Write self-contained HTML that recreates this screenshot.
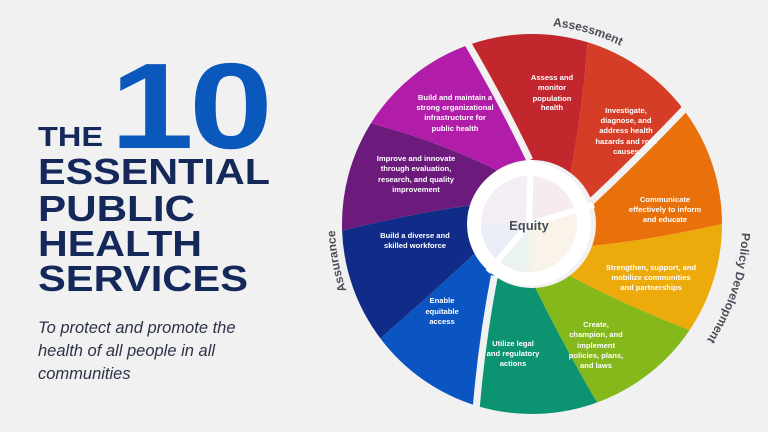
<!DOCTYPE html>
<html><head><meta charset="utf-8"><style>
html,body{margin:0;padding:0;background:#f1f1f2;}
svg{display:block;}
.seg{font-family:"Liberation Sans",sans-serif;font-weight:bold;font-size:7.6px;fill:#fff;text-anchor:middle;}
.arc{font-family:"Liberation Sans",sans-serif;font-weight:bold;font-size:12px;fill:#4a4e57;}
</style></head><body>
<svg width="768" height="432" viewBox="0 0 768 432" xmlns="http://www.w3.org/2000/svg">
<rect width="768" height="432" fill="#f1f1f2"/>
<g font-family="Liberation Sans, sans-serif" font-weight="bold">
<text x="110" y="148" font-size="122" fill="#0b58bd" textLength="158" lengthAdjust="spacingAndGlyphs" letter-spacing="-4">10</text>
<text x="38" y="146" font-size="28" fill="#14285a" textLength="65" lengthAdjust="spacingAndGlyphs">THE</text>
<text x="38" y="184" font-size="36" fill="#14285a" textLength="232" lengthAdjust="spacingAndGlyphs">ESSENTIAL</text>
<text x="38" y="221" font-size="36" fill="#14285a" textLength="157" lengthAdjust="spacingAndGlyphs">PUBLIC</text>
<text x="38" y="256" font-size="36" fill="#14285a" textLength="164" lengthAdjust="spacingAndGlyphs">HEALTH</text>
<text x="38" y="291" font-size="36" fill="#14285a" textLength="210" lengthAdjust="spacingAndGlyphs">SERVICES</text>
</g>
<g font-family="Liberation Sans, sans-serif" font-style="italic" font-size="16.5" fill="#2d3447">
<text x="38" y="333">To protect and promote the</text>
<text x="38" y="356">health of all people in all</text>
<text x="38" y="379">communities</text>
</g>
<g>
<path fill="#c1272d" d="M468.6,44.9 A190,190 0 0 1 587.6,42.3 Q582.8,109.8 570.5,172.9 A64,64 0 0 0 529.8,160 Q502.3,102.6 468.6,44.9Z"/>
<path fill="#d53d26" d="M587.6,42.3 A190,190 0 0 1 683.7,109.7 Q638,157.8 591.8,201.1 A64,64 0 0 0 570.5,172.9 Q582.8,109.8 587.6,42.3Z"/>
<path fill="#e8710b" d="M683.7,109.7 A190,190 0 0 1 722,224 Q656.1,239.2 592.1,245.9 A64,64 0 0 0 591.8,201.1 Q638,157.8 683.7,109.7Z"/>
<path fill="#edaa0b" d="M722,224 A190,190 0 0 1 689.5,330.2 Q626.3,306 569.6,275.8 A64,64 0 0 0 592.1,245.9 Q656.1,239.2 722,224Z"/>
<path fill="#84b81b" d="M689.5,330.2 A190,190 0 0 1 597,402.5 Q563.3,345 535.3,287.9 A64,64 0 0 0 569.6,275.8 Q626.3,306 689.5,330.2Z"/>
<path fill="#0b9372" d="M597,402.5 A190,190 0 0 1 476.4,405.7 Q482.2,338.6 494.4,275.8 A64,64 0 0 0 535.3,287.9 Q563.3,345 597,402.5Z"/>
<path fill="#0b55c3" d="M476.4,405.7 A190,190 0 0 1 380.3,338.3 Q429.6,295.7 475,253.1 A64,64 0 0 0 494.4,275.8 Q482.2,338.6 476.4,405.7Z"/>
<path fill="#102c88" d="M380.3,338.3 A190,190 0 0 1 342.1,230.6 Q407.4,214.2 470.8,205.3 A64,64 0 0 0 475,253.1 Q429.6,295.7 380.3,338.3Z"/>
<path fill="#6c1b7d" d="M342.1,230.6 A190,190 0 0 1 370.9,123.3 Q438.4,141.2 497.1,170.3 A64,64 0 0 0 470.8,205.3 Q407.4,214.2 342.1,230.6Z"/>
<path fill="#b11ca9" d="M370.9,123.3 A190,190 0 0 1 468.6,44.9 Q502.3,102.6 529.8,160 A64,64 0 0 0 497.1,170.3 Q438.4,141.2 370.9,123.3Z"/>
</g>
<g stroke="#f1f1f2" stroke-width="7" fill="none">
<path d="M466,38 L468.6,44.9 Q502.3,102.6 529.8,160"/>
<path d="M689,104 L683.7,109.7 Q638,157.8 591.8,201.1"/>
<path d="M475.8,412 L476.4,405.7 Q482.2,338.6 494.4,275.8"/>
</g>
<circle cx="529" cy="224" r="62" fill="#fff"/>
<circle cx="529" cy="224" r="48" fill="#f3eef3"/>
<path d="M529,224 L529,176 A48,48 0 0 1 575,212Z" fill="#f6ecee"/>
<path d="M529,224 L575,212 A48,48 0 0 1 529,272Z" fill="#f9f3ea"/>
<path d="M529,224 L529,272 A48,48 0 0 1 497,260Z" fill="#eaf3f1"/>
<path d="M529,224 L497,260 A48,48 0 0 1 481,224Z" fill="#e9edf6"/>
<g stroke="#fff" stroke-width="6">
<line x1="529" y1="224" x2="531" y2="160"/>
<line x1="529" y1="224" x2="594" y2="205"/>
<line x1="529" y1="224" x2="488" y2="272"/>
</g>
<text x="529" y="230" text-anchor="middle" font-family="Liberation Sans, sans-serif" font-weight="bold" font-size="13" fill="#4a4e57">Equity</text>
<g class="seg">
<text x="552" y="80">Assess and</text><text x="552" y="90">monitor</text><text x="552" y="101">population</text><text x="552" y="110">health</text>
<text x="626" y="113">Investigate,</text><text x="626" y="123">diagnose, and</text><text x="626" y="133">address health</text><text x="626" y="144">hazards and root</text><text x="626" y="154">causes</text>
<text x="665" y="202">Communicate</text><text x="665" y="212">effectively to inform</text><text x="665" y="222">and educate</text>
<text x="651" y="270">Strengthen, support, and</text><text x="651" y="280">mobilize communities</text><text x="651" y="290">and partnerships</text>
<text x="596" y="327">Create,</text><text x="596" y="337">champion, and</text><text x="596" y="348">implement</text><text x="596" y="358">policies, plans,</text><text x="596" y="368">and laws</text>
<text x="513" y="346">Utilize legal</text><text x="513" y="356">and regulatory</text><text x="513" y="366">actions</text>
<text x="442" y="303">Enable</text><text x="442" y="314">equitable</text><text x="442" y="324">access</text>
<text x="415" y="238">Build a diverse and</text><text x="415" y="248">skilled workforce</text>
<text x="416" y="161">Improve and innovate</text><text x="416" y="171">through evaluation,</text><text x="416" y="182">research, and quality</text><text x="416" y="192">improvement</text>
<text x="455" y="100">Build and maintain a</text><text x="455" y="110">strong organizational</text><text x="455" y="120">infrastructure for</text><text x="455" y="131">public health</text>
</g>
<defs>
<path id="pA" d="M333,224 A199,199 0 0 1 731,224"/>
<path id="pP" d="M532,14 A210,210 0 0 1 532,434"/>
<path id="pS" d="M532,421 A197,197 0 0 1 532,27"/>
</defs>
<text class="arc"><textPath href="#pA" startOffset="59%" text-anchor="middle">Assessment</textPath></text>
<text class="arc"><textPath href="#pP" startOffset="60%" text-anchor="middle">Policy Development</textPath></text>
<text class="arc"><textPath href="#pS" startOffset="44%" text-anchor="middle">Assurance</textPath></text>
</svg>
</body></html>
